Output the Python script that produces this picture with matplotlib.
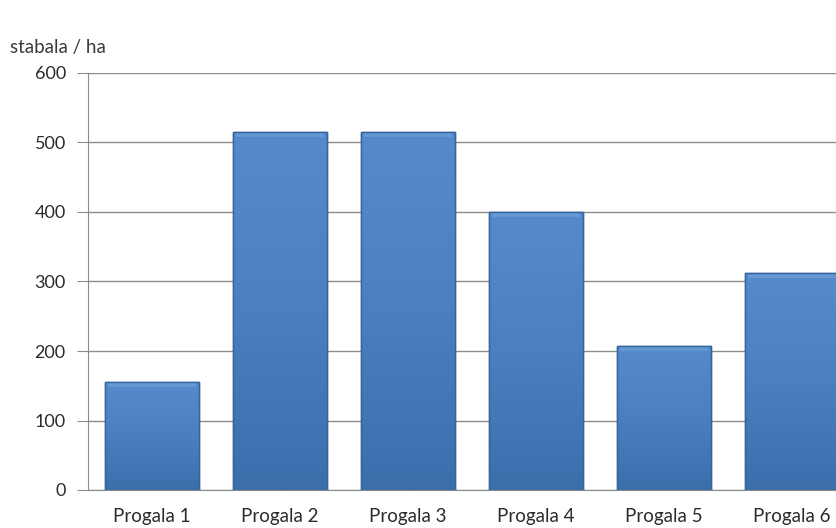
import matplotlib
matplotlib.use("Agg")
import matplotlib.pyplot as plt
import numpy as np
from matplotlib.colors import LinearSegmentedColormap

categories = ["Progala 1", "Progala 2", "Progala 3", "Progala 4", "Progala 5", "Progala 6"]
values = [155, 515, 515, 400, 207, 312]
yticks = [0, 100, 200, 300, 400, 500, 600]

plt.rcParams['font.family'] = ['Lato', 'DejaVu Sans']

fig = plt.figure(figsize=(8.37, 5.28), dpi=100)
ax = fig.add_axes([88 / 837, 38 / 528, 768 / 837, 417 / 528])

x = np.arange(len(categories))
bars = ax.bar(x, values, width=0.73, color="#4a7ebf", edgecolor="#34649d",
              linewidth=1.0, zorder=3)

# vertical gradient inside each bar (Excel-like bevel look)
cmap = LinearSegmentedColormap.from_list("bev", ["#3b6eab", "#4a80c0", "#558bcb"])
grad = np.linspace(0, 1, 256).reshape(-1, 1)
for b in bars:
    x0, w, h = b.get_x(), b.get_width(), b.get_height()
    im = ax.imshow(grad, cmap=cmap, aspect="auto", origin="lower",
                   extent=(x0, x0 + w, 0, h), zorder=3.5)
    im.set_clip_path(b)
    # light top highlight
    ax.fill_between([x0 + 0.02, x0 + w - 0.02], h - 7, h - 1,
                    color="#7aa7dc", alpha=0.45, zorder=4, linewidth=0)
    ax.bar(x0 + w / 2, h, width=w, fill=False, edgecolor="#34649d",
           linewidth=1.0, zorder=5)

ax.set_xlim(-0.5, len(categories) - 0.5)
ax.set_ylim(0, 600)
ax.set_yticks(yticks)
ax.set_yticklabels([str(t) for t in yticks], fontsize=13, color="#2b2b2b")
ax.set_xticks(x)
ax.set_xticklabels(categories, fontsize=13.5, color="#2b2b2b")

ax.grid(axis="y", color="#8c8c8c", linewidth=1.0, zorder=0)
ax.set_axisbelow(True)
for s in ["top", "right"]:
    ax.spines[s].set_visible(False)
ax.spines["left"].set_color("#8c8c8c")
ax.spines["bottom"].set_color("#8c8c8c")
ax.tick_params(axis="y", length=8, color="#8c8c8c", pad=8)
ax.tick_params(axis="x", length=0, pad=13)

fig.text(10 / 837, 1 - 47 / 528, "stabala / ha", fontsize=13.5, color="#3a3a3a",
         ha="left", va="center")

fig.savefig("out.png", dpi=100)
